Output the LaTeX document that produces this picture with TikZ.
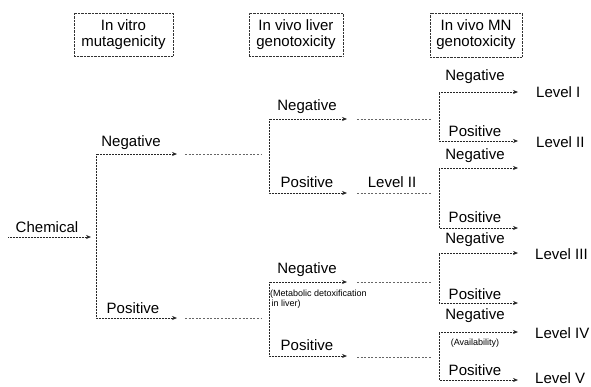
\documentclass[tikz,border=0pt]{standalone}
\usepackage{fontspec}
\setmainfont{Liberation Sans}
\usetikzlibrary{arrows.meta}
\begin{document}
\begin{tikzpicture}[x=1pt,y=-1pt,
  lbl/.style={font=\fontsize{15}{16}\selectfont, inner sep=0pt},
  small/.style={font=\fontsize{9}{10}\selectfont, inner sep=0pt, align=left},
  hdr/.style={draw=black!80, dash pattern=on 0.7pt off 0.7pt, line width=0.6pt,
    font=\fontsize{15}{16}\selectfont, align=center, inner sep=0pt},
  dotline/.style={draw=black!85, line width=0.7pt, dash pattern=on 0.8pt off 0.7pt,
    -{Stealth[length=5pt,width=4pt]}},
  dotboth/.style={draw=black!85, line width=0.7pt, dash pattern=on 0.8pt off 0.7pt,
    {Stealth[length=5pt,width=4pt]}-{Stealth[length=5pt,width=4pt]}},
  bridge/.style={draw=black!60, line width=0.6pt, dash pattern=on 2pt off 1.6pt},
]
\useasboundingbox (0,0) rectangle (591,386);

% headers
\node[hdr, minimum width=99pt, minimum height=43pt] (h1) at (123.5,34.5) {In vitro\\mutagenicity};
\node[hdr, minimum width=94pt, minimum height=43pt] (h2) at (296,34.5) {In vivo liver\\genotoxicity};
\node[hdr, minimum width=92pt, minimum height=44pt] (h3) at (476,35) {In vivo MN\\genotoxicity};

% chemical
\node[lbl] (chem) at (47,227) {Chemical};
\coordinate (c0) at (8,237);
\coordinate (c1) at (91,237);
\draw[dotline] (c0) -- (c1);

% level 1 split
\coordinate (a1) at (96,154); \coordinate (a1e) at (177,154);
\coordinate (a2) at (96,318); \coordinate (a2e) at (177,318);
\draw[dotboth] (a1e) -- (a1) -- (a2) -- (a2e);
\node[lbl] (n1) at (131,143) {Negative};
\node[lbl] (p1) at (133,308) {Positive};

\coordinate (d1s) at (185,154); \coordinate (d1e) at (261,154);
\coordinate (d2s) at (185,318); \coordinate (d2e) at (261,318);
\draw[bridge] (d1s) -- (d1e);
\draw[bridge] (d2s) -- (d2e);

% level 2 split (upper)
\coordinate (b1) at (269,119); \coordinate (b1e) at (347,119);
\coordinate (b2) at (269,193); \coordinate (b2e) at (347,193);
\draw[dotboth] (b1e) -- (b1) -- (b2) -- (b2e);
\node[lbl] (n2a) at (307,107) {Negative};
\node[lbl] (p2a) at (307,182) {Positive};
\node[lbl] (lvl2a) at (392,182) {Level II};

% level 2 split (lower)
\coordinate (b3) at (269,282); \coordinate (b3e) at (347,282);
\coordinate (b4) at (269,356); \coordinate (b4e) at (347,356);
\draw[dotboth] (b3e) -- (b3) -- (b4) -- (b4e);
\node[lbl] (n2b) at (307,270) {Negative};
\node[lbl] (p2b) at (307,345) {Positive};
\node[small, anchor=north west] (meta) at (270,290) {(Metabolic detoxification\\\hspace*{1.5pt}in liver)};

% bridges 2->3
\coordinate (e1s) at (357,119); \coordinate (e1e) at (431,119);
\coordinate (e2s) at (357,193); \coordinate (e2e) at (431,193);
\coordinate (e3s) at (357,282); \coordinate (e3e) at (431,282);
\coordinate (e4s) at (357,357); \coordinate (e4e) at (431,357);
\draw[bridge] (e1s) -- (e1e);
\draw[bridge] (e2s) -- (e2e);
\draw[bridge] (e3s) -- (e3e);
\draw[bridge] (e4s) -- (e4e);

% level 3 splits
\coordinate (m1) at (439,92);  \coordinate (m1e) at (518,92);
\coordinate (m2) at (439,141); \coordinate (m2e) at (518,141);
\draw[dotboth] (m1e) -- (m1) -- (m2) -- (m2e);
\node[lbl] (n3a) at (475,77) {Negative};
\node[lbl] (p3a) at (475,131) {Positive};
\node[lbl, anchor=west] (L1) at (536,92) {Level I};
\node[lbl, anchor=west] (L2) at (536,142) {Level II};

\coordinate (m3) at (439,168); \coordinate (m3e) at (518,168);
\coordinate (m4) at (439,228); \coordinate (m4e) at (518,228);
\draw[dotboth] (m3e) -- (m3) -- (m4) -- (m4e);
\node[lbl] (n3b) at (475,156) {Negative};
\node[lbl] (p3b) at (475,217) {Positive};

\coordinate (m5) at (439,253); \coordinate (m5e) at (518,253);
\coordinate (m6) at (439,303); \coordinate (m6e) at (518,303);
\draw[dotboth] (m5e) -- (m5) -- (m6) -- (m6e);
\node[lbl] (n3c) at (475,240) {Negative};
\node[lbl] (p3c) at (475,294) {Positive};
\node[lbl, anchor=west] (L3) at (535,254) {Level III};

\coordinate (m7) at (439,332); \coordinate (m7e) at (518,332);
\coordinate (m8) at (439,380); \coordinate (m8e) at (518,380);
\draw[dotboth] (m7e) -- (m7) -- (m8) -- (m8e);
\node[lbl] (n3d) at (475,316) {Negative};
\node[small] (avail) at (475,343) {(Availability)};
\node[lbl] (p3d) at (475,370) {Positive};
\node[lbl, anchor=west] (L4) at (535,333) {Level IV};
\node[lbl, anchor=west] (L5) at (535,378) {Level V};
\end{tikzpicture}
\end{document}
